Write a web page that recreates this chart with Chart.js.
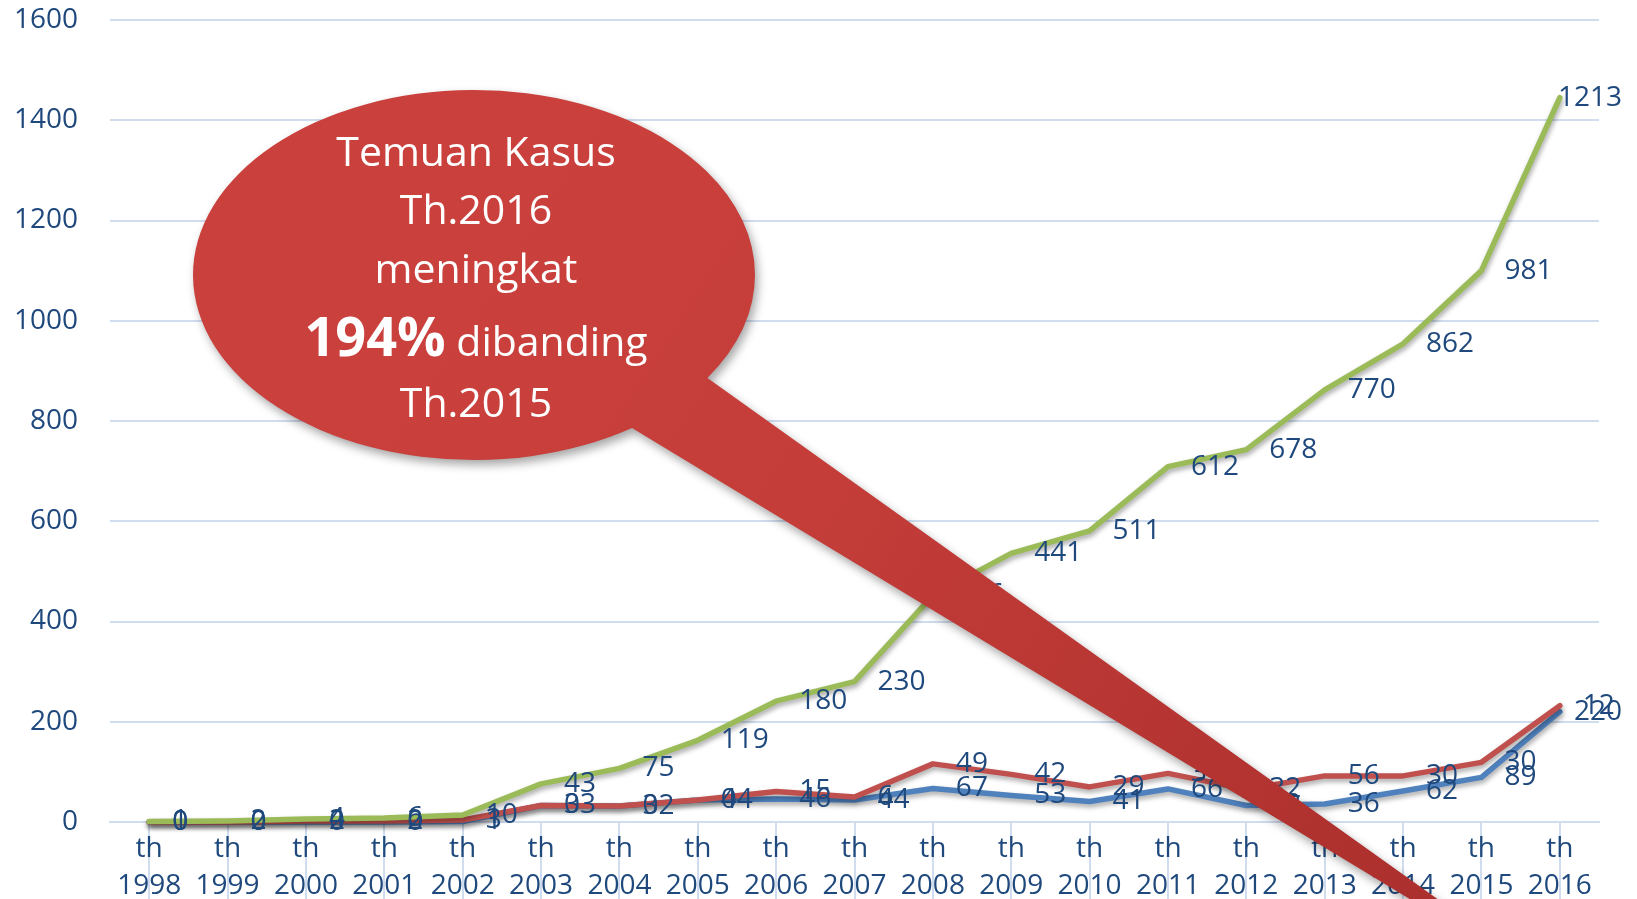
<!DOCTYPE html>
<html>
<head>
<meta charset="utf-8">
<script src="https://cdn.jsdelivr.net/npm/chart.js@4.4.1/dist/chart.umd.min.js"></script>
<style>
  html, body { margin: 0; padding: 0; background: #fff; overflow: hidden; }
  #wrap { width: 1637px; height: 899px; }
</style>
</head>
<body>
<div id="wrap"><canvas id="kasusChart"></canvas></div>
<script>
// data (stacked lines: blue, red, green)
const years = ['1998', '1999', '2000', '2001', '2002', '2003', '2004', '2005', '2006', '2007',
               '2008', '2009', '2010', '2011', '2012', '2013', '2014', '2015', '2016'];
const blueValues  = [0, 0, 0, 0, 1, 33, 32, 44, 46, 44, 67, 53, 41, 66, 33, 36, 62, 89, 220];
const redValues   = [0, 0, 2, 2, 3, 0, 0, 0, 15, 6, 49, 42, 29, 31, 32, 56, 30, 30, 12];
const greenValues = [1, 2, 4, 6, 10, 43, 75, 119, 180, 230, 336, 441, 511, 612, 678, 770, 862, 981, 1213];
const yTicks = [0, 200, 400, 600, 800, 1000, 1200, 1400, 1600];

const calloutLines = ['Temuan Kasus', 'Th.2016', 'meningkat', '194%', ' dibanding', 'Th.2015'];

const textBlue = '#1F497D';
const gridBlue = '#D0DDEF';
const fontName = '"Open Sans", "Liberation Sans", sans-serif';

const categories = years.map(y => ['th', y]);

// draw lines in Excel order (blue, red, green on top) with a soft shadow, then the value labels
const lineOrder = {
    id: 'lineOrder',
    beforeDatasetDraw() {
        return false;
    },
    afterDatasetsDraw(chart) {
        const ctx = chart.ctx;
        for (let i = 0; i < chart.data.datasets.length; i++) {
            ctx.save();
            ctx.shadowColor = 'rgba(0,0,0,0.35)';
            ctx.shadowBlur = 5;
            ctx.shadowOffsetX = 1;
            ctx.shadowOffsetY = 3;
            chart.getDatasetMeta(i).controller.draw();
            ctx.restore();
        }
        ctx.save();
        ctx.font = '28px ' + fontName;
        ctx.fillStyle = textBlue;
        ctx.textAlign = 'left';
        ctx.textBaseline = 'middle';
        chart.data.datasets.forEach((ds, i) => {
            const meta = chart.getDatasetMeta(i);
            meta.data.forEach((pt, j) => {
                const txt = String(ds.data[j]);
                const w = ctx.measureText(txt).width;
                const x = Math.min(pt.x + 23, 1622 - w);
                ctx.fillText(txt, x, pt.y);
            });
        });
        ctx.restore();
    }
};

// the red speech-bubble callout
const callout = {
    id: 'callout',
    afterDraw(chart) {
        const ctx = chart.ctx;
        const cx = 474, cy = 275, rx = 281, ry = 185;
        const ax = 712, ay = 380, bx = 632, by = 428;
        const tipX = 1593, tipY = 1010;
        const tA = Math.atan2((ay - cy) / ry, (ax - cx) / rx);
        const tB = Math.atan2((by - cy) / ry, (bx - cx) / rx);

        ctx.save();
        ctx.shadowColor = 'rgba(0,0,0,0.35)';
        ctx.shadowBlur = 10;
        ctx.shadowOffsetX = 3;
        ctx.shadowOffsetY = 5;
        const g = ctx.createLinearGradient(cx, cy, tipX, tipY);
        g.addColorStop(0, '#CA403C');
        g.addColorStop(0.3, '#C43D39');
        g.addColorStop(1, '#A52C2A');
        ctx.fillStyle = g;
        ctx.beginPath();
        ctx.ellipse(cx, cy, rx, ry, 0, tB, tA, false);
        ctx.lineTo(tipX, tipY);
        ctx.closePath();
        ctx.fill();
        ctx.restore();

        ctx.save();
        ctx.fillStyle = '#FFFFFF';
        ctx.textBaseline = 'alphabetic';
        ctx.textAlign = 'center';
        const tx = 476;
        ctx.font = '41px ' + fontName;
        ctx.fillText(calloutLines[0], tx, 166);
        ctx.fillText(calloutLines[1], tx, 224);
        ctx.fillText(calloutLines[2], tx, 283);
        ctx.fillText(calloutLines[5], tx, 417);
        // mixed line: bold percentage + regular text
        ctx.textAlign = 'left';
        ctx.font = 'bold 54px ' + fontName;
        const w1 = ctx.measureText(calloutLines[3]).width;
        ctx.font = '41px ' + fontName;
        const w2 = ctx.measureText(calloutLines[4]).width;
        const x0 = tx - (w1 + w2) / 2;
        ctx.font = 'bold 54px ' + fontName;
        ctx.fillText(calloutLines[3], x0, 356);
        ctx.font = '41px ' + fontName;
        ctx.fillText(calloutLines[4], x0 + w1, 356);
        ctx.restore();
    }
};

const lineStyle = {
    fill: false,
    tension: 0,
    borderWidth: 5.5,
    borderJoinStyle: 'round',
    borderCapStyle: 'round',
    pointRadius: 0,
    pointHoverRadius: 0
};

const ctx = document.getElementById('kasusChart').getContext('2d');
new Chart(ctx, {
    type: 'line',
    data: {
        labels: categories,
        datasets: [
            { label: 'blue', data: blueValues, borderColor: '#4F81BD', ...lineStyle },
            { label: 'red', data: redValues, borderColor: '#C0504D', ...lineStyle },
            { label: 'green', data: greenValues, borderColor: '#9BBB59', ...lineStyle }
        ]
    },
    options: {
        responsive: true,
        maintainAspectRatio: false,
        animation: false,
        layout: { padding: { top: 20, right: 38, left: 0, bottom: 0 } },
        plugins: {
            legend: { display: false },
            tooltip: { enabled: false }
        },
        scales: {
            x: {
                offset: true,
                grid: {
                    drawOnChartArea: false,
                    drawTicks: true,
                    tickLength: 80,
                    color: gridBlue,
                    lineWidth: 2
                },
                border: { display: true, color: gridBlue, width: 2 },
                ticks: {
                    autoSkip: false,
                    maxRotation: 0,
                    minRotation: 0,
                    padding: -71,
                    color: textBlue,
                    font: { family: fontName, size: 28, lineHeight: 1.32 }
                },
                afterFit: s => { s.height = 77; s.paddingTop = 0; s.paddingBottom = 0; }
            },
            y: {
                stacked: true,
                min: 0,
                max: 1600,
                grid: { color: gridBlue, lineWidth: 2, drawTicks: false },
                border: { display: false },
                ticks: {
                    padding: 32,
                    color: textBlue,
                    font: { family: fontName, size: 28 },
                    callback: v => String(v)
                },
                afterBuildTicks: s => { s.ticks = yTicks.map(v => ({ value: v })); },
                afterFit: s => { s.width = 110; s.paddingTop = 0; s.paddingBottom = 0; }
            }
        }
    },
    plugins: [lineOrder, callout]
});
</script>
</body>
</html>
